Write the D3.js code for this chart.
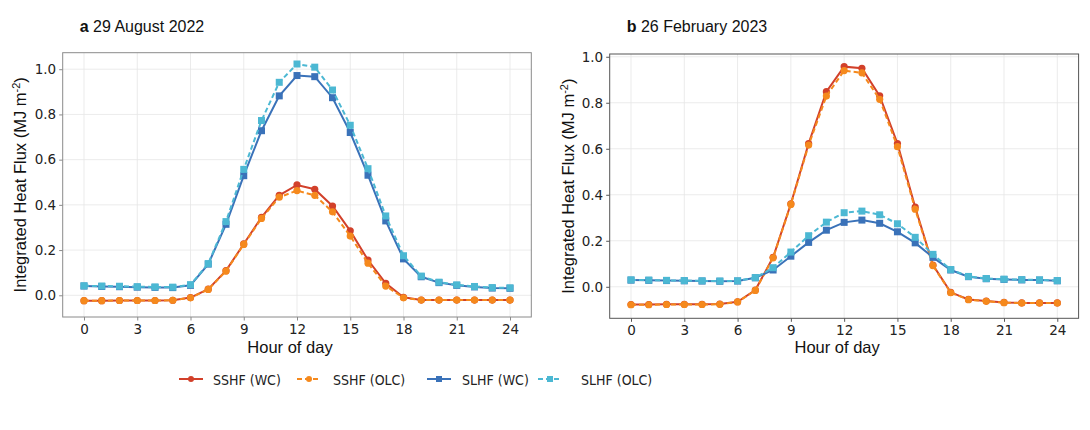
<!DOCTYPE html>
<html>
<head>
<meta charset="utf-8">
<script src="https://cdn.jsdelivr.net/npm/d3@7"></script>
<style>
  body { margin: 0; background: #fff; }
  svg { display: block; }
</style>
</head>
<body>
<svg width="1090" height="430"></svg>
<script>
// hours on the x axis
const hours = d3.range(0, 25);
const xTicks = [0, 3, 6, 9, 12, 15, 18, 21, 24];
const yTicks = [0.0, 0.2, 0.4, 0.6, 0.8, 1.0];

// panel a, 29 August 2022
const sshfWcA  = [-0.024,-0.024,-0.023,-0.023,-0.023,-0.022,-0.010,0.027,0.109,0.227,0.345,0.442,0.488,0.469,0.395,0.285,0.156,0.053,-0.009,-0.021,-0.021,-0.021,-0.021,-0.021,-0.021];
const sshfOlcA = [-0.024,-0.024,-0.023,-0.023,-0.023,-0.022,-0.011,0.026,0.107,0.225,0.340,0.434,0.463,0.442,0.369,0.262,0.142,0.041,-0.011,-0.021,-0.021,-0.021,-0.021,-0.021,-0.021];
const slhfWcA  = [0.041,0.039,0.038,0.036,0.035,0.034,0.044,0.138,0.314,0.529,0.728,0.882,0.972,0.967,0.874,0.720,0.531,0.329,0.161,0.082,0.056,0.044,0.037,0.032,0.031];
const slhfOlcA = [0.042,0.041,0.040,0.038,0.037,0.036,0.047,0.140,0.326,0.557,0.773,0.942,1.023,1.009,0.908,0.752,0.560,0.351,0.175,0.085,0.058,0.046,0.039,0.034,0.033];

// panel b, 26 February 2023
const sshfWcB  = [-0.077,-0.077,-0.076,-0.076,-0.076,-0.075,-0.065,-0.014,0.128,0.361,0.623,0.848,0.957,0.950,0.830,0.623,0.346,0.094,-0.024,-0.055,-0.062,-0.068,-0.070,-0.070,-0.070];
const sshfOlcB = [-0.078,-0.078,-0.077,-0.077,-0.077,-0.076,-0.066,-0.016,0.126,0.358,0.616,0.829,0.940,0.930,0.815,0.609,0.337,0.092,-0.026,-0.056,-0.063,-0.069,-0.071,-0.071,-0.071];
const slhfWcB  = [0.029,0.028,0.027,0.026,0.025,0.024,0.025,0.039,0.073,0.133,0.193,0.246,0.280,0.290,0.276,0.239,0.191,0.128,0.073,0.044,0.035,0.032,0.030,0.029,0.026];
const slhfOlcB = [0.030,0.029,0.028,0.027,0.026,0.025,0.026,0.040,0.083,0.151,0.222,0.281,0.322,0.329,0.313,0.274,0.215,0.141,0.075,0.045,0.036,0.033,0.031,0.030,0.027];

const seriesNames = ["SSHF (WC)", "SSHF (OLC)", "SLHF (WC)", "SLHF (OLC)"];
const colors = ["#d2402a", "#f5891d", "#3a72b9", "#4cb8d3"];
const dashed = [false, true, false, true];
const squareMarker = [false, false, true, true];

const panels = [
  { label: "a", title: " 29 August 2022", left: 62.7, right: 531.3, top: 52.7, bottom: 317, yDomain: [-0.096, 1.073], yLabelX: 20,
    series: [sshfWcA, sshfOlcA, slhfWcA, slhfOlcA], frame: "#8a8a8a" },
  { label: "b", title: " 26 February 2023", left: 609.7, right: 1078.6, top: 54, bottom: 318.3, yDomain: [-0.137, 1.012], yLabelX: 568,
    series: [sshfWcB, sshfOlcB, slhfWcB, slhfOlcB], frame: "#555" }
];

const svg = d3.select("svg");
const tickFont = "'DejaVu Sans', sans-serif";
const labelFont = "'Liberation Sans', Arial, sans-serif";

panels.forEach(p => {
  const x = d3.scaleLinear().domain([-1.2, 25.2]).range([p.left, p.right]);
  const y = d3.scaleLinear().domain(p.yDomain).range([p.bottom, p.top]);
  const g = svg.append("g");

  // grid
  g.selectAll(".vg").data(xTicks).enter().append("line")
    .attr("x1", d => x(d)).attr("x2", d => x(d))
    .attr("y1", p.top).attr("y2", p.bottom)
    .attr("stroke", "#e6e6e6").attr("stroke-width", 0.8);
  g.selectAll(".hg").data(yTicks).enter().append("line")
    .attr("x1", p.left).attr("x2", p.right)
    .attr("y1", d => y(d)).attr("y2", d => y(d))
    .attr("stroke", "#e6e6e6").attr("stroke-width", 0.8);

  // axes
  const xAxis = g.append("g")
    .attr("transform", `translate(0,${p.bottom})`)
    .call(d3.axisBottom(x).tickValues(xTicks).tickSize(3.5).tickPadding(4).tickFormat(d3.format("d")));
  const yAxis = g.append("g")
    .attr("transform", `translate(${p.left},0)`)
    .call(d3.axisLeft(y).tickValues(yTicks).tickSize(3.5).tickPadding(3).tickFormat(d3.format(".1f")));
  [xAxis, yAxis].forEach(a => {
    a.select(".domain").remove();
    a.selectAll(".tick line").attr("stroke", p.frame);
    a.selectAll(".tick text").attr("font-family", tickFont).attr("font-size", 13.5).attr("fill", "#222");
  });

  // frame
  g.append("rect")
    .attr("x", p.left).attr("y", p.top)
    .attr("width", p.right - p.left).attr("height", p.bottom - p.top)
    .attr("fill", "none").attr("stroke", p.frame).attr("stroke-width", 1);

  // series
  p.series.forEach((vals, i) => {
    const pts = hours.map((h, k) => [h, vals[k]]);
    g.append("path")
      .datum(pts)
      .attr("fill", "none")
      .attr("stroke", colors[i])
      .attr("stroke-width", 2)
      .attr("stroke-dasharray", dashed[i] ? "5,3" : null)
      .attr("d", d3.line().x(d => x(d[0])).y(d => y(d[1])));
    if (squareMarker[i]) {
      g.selectAll(null).data(pts).enter().append("rect")
        .attr("x", d => x(d[0]) - 3.5).attr("y", d => y(d[1]) - 3.5)
        .attr("width", 7).attr("height", 7)
        .attr("fill", colors[i]);
    } else {
      g.selectAll(null).data(pts).enter().append("circle")
        .attr("cx", d => x(d[0])).attr("cy", d => y(d[1]))
        .attr("r", 3.6)
        .attr("fill", colors[i]);
    }
  });

  // titles and labels
  const t = svg.append("text")
    .attr("x", p.left + 17).attr("y", 32)
    .attr("font-family", labelFont).attr("font-size", 16).attr("fill", "#111");
  t.append("tspan").attr("font-weight", "bold").text(p.label);
  t.append("tspan").text(p.title);

  svg.append("text")
    .attr("x", (p.left + p.right) / 2 - 7).attr("y", 352.5)
    .attr("text-anchor", "middle")
    .attr("font-family", labelFont).attr("font-size", 16.5).attr("fill", "#111")
    .text("Hour of day");

  const yl = svg.append("text")
    .attr("transform", `translate(${p.yLabelX + 6},${(p.top + p.bottom) / 2}) rotate(-90)`)
    .attr("text-anchor", "middle")
    .attr("font-family", labelFont).attr("font-size", 16.5).attr("fill", "#111");
  yl.append("tspan").text("Integrated Heat Flux (MJ m");
  yl.append("tspan").attr("font-size", 11).attr("dy", -6).text("-2");
  yl.append("tspan").attr("dy", 6).text(")");
});

// legend
const legendX = [179, 297, 427, 538];
const legendTextX = [213, 333, 462, 581];
const legendY = 379;
seriesNames.forEach((name, i) => {
  const lg = svg.append("g").attr("transform", `translate(${legendX[i]},${legendY})`);
  lg.append("line")
    .attr("x1", 0).attr("x2", 24).attr("y1", 0).attr("y2", 0)
    .attr("stroke", colors[i]).attr("stroke-width", 2)
    .attr("stroke-dasharray", dashed[i] ? "5,3" : null);
  if (squareMarker[i]) {
    lg.append("rect").attr("x", 9).attr("y", -3).attr("width", 6).attr("height", 6).attr("fill", colors[i]);
  } else {
    lg.append("circle").attr("cx", 12).attr("cy", 0).attr("r", 3).attr("fill", colors[i]);
  }
  lg.append("text")
    .attr("x", legendTextX[i] - legendX[i]).attr("y", 5.5)
    .attr("font-family", "'DejaVu Sans Condensed', 'DejaVu Sans', sans-serif")
    .attr("font-stretch", "condensed")
    .attr("font-size", 14).attr("fill", "#222")
    .text(name);
});
</script>
</body>
</html>
